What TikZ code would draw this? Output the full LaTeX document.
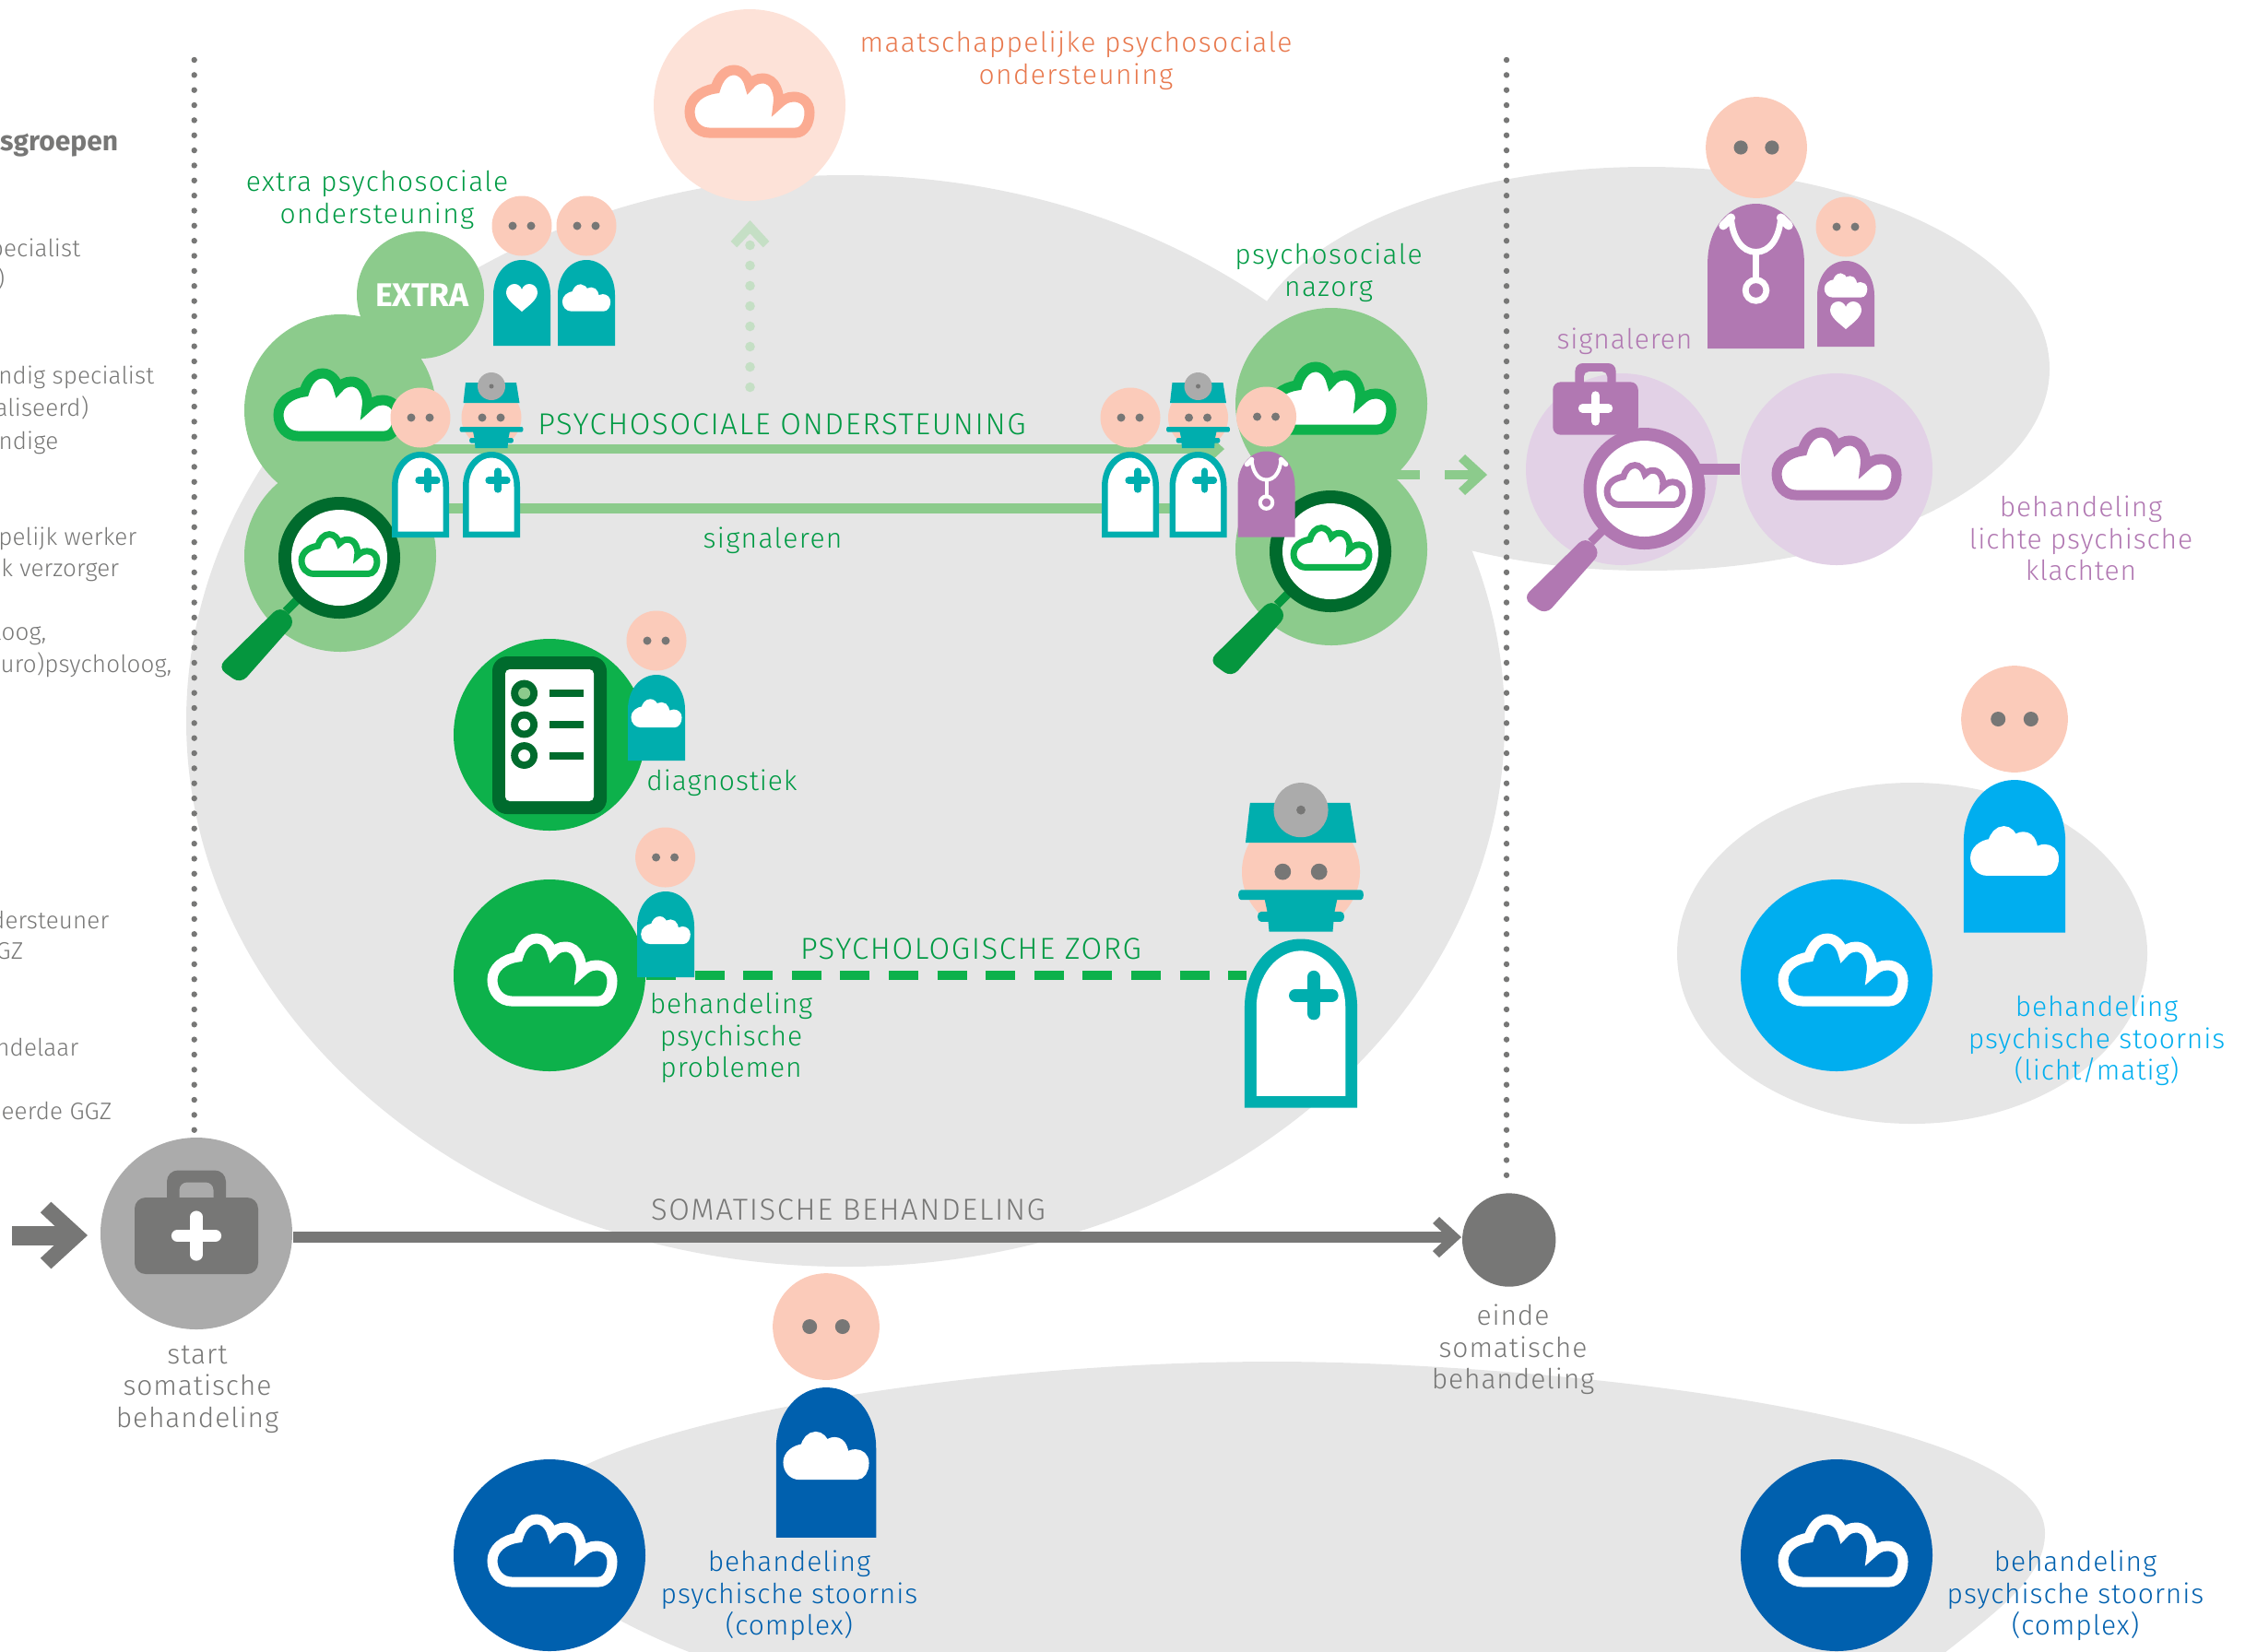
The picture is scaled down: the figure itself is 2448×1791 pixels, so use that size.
\documentclass[tikz,border=0pt]{standalone}
\usepackage{fontspec}
\setmainfont{Fira Sans}
\newfontfamily\dinw[LetterSpace=4.5]{Fira Sans Light}
\newfontfamily\dinx[LetterSpace=3]{Fira Sans Light}
\newfontfamily\dinu[LetterSpace=5]{Fira Sans Light}
\newfontfamily\dinn[LetterSpace=0.5]{Fira Sans Light}
\newfontfamily\dinb{Fira Sans}
\definecolor{blob}{HTML}{E6E6E6}
\definecolor{peachbg}{HTML}{FDE2D8}
\definecolor{peachln}{HTML}{FBAB92}
\definecolor{orangetx}{HTML}{E8784D}
\definecolor{lgreen}{HTML}{8CCB8C}
\definecolor{vlgreen}{HTML}{C5DFC5}
\definecolor{mgreen}{HTML}{0DB14B}
\definecolor{dgreen}{HTML}{006B2D}
\definecolor{hgreen}{HTML}{05963E}
\definecolor{tgreen}{HTML}{009A44}
\definecolor{teal2}{HTML}{00AEAE}
\definecolor{purp}{HTML}{B178B2}
\definecolor{lpurp}{HTML}{E2D1E6}
\definecolor{skin}{HTML}{FBCBBA}
\definecolor{gr}{HTML}{777776}
\definecolor{lgr}{HTML}{ABABAB}
\definecolor{sky}{HTML}{00AEEF}
\definecolor{navy}{HTML}{0060AE}
\tikzset{
  disc/.style={circle,inner sep=0pt,minimum size=#1*0.5pt},
  lab/.style={inner sep=0pt,align=center,font=\dinw\fontsize{7.5}{8.65}\selectfont},
  labn/.style={inner sep=0pt,align=center,font=\dinx\fontsize{7.5}{8.65}\selectfont},
  capslab/.style={inner sep=0pt,align=center,font=\dinu\fontsize{8.2}{9}\selectfont},
  leftlab/.style={inner sep=0pt,anchor=mid east,font=\dinn\fontsize{6.5}{8}\selectfont,text=gr},
  dotline/.style={line width=1.6pt,line cap=round,dash pattern=on 0pt off 4.087pt,draw=gr},
  updots/.style={line width=2.65pt,line cap=round,dash pattern=on 0pt off 5.5pt,draw=vlgreen},
  thickln/.style={line width=2.7pt},
}
% cloud: x,y,scale,stroke,fill
\newcommand{\Cld}[5]{\path[draw=#4,fill=#5,shift={(#1,#2)},scale=#3,line width=#3*2.75pt,miter limit=3]
 (-44,34) -- (50,34) .. controls (59,34) and (65,24) .. (65,12) .. controls (65,1) and (57,-5) .. (48,-5)
 .. controls (41,-5) and (36,-2) .. (31,3) .. controls (33,-6) and (29,-25) .. (14,-25)
 .. controls (8,-25) and (3,-22) .. (0,-18) .. controls (-2,-27) and (-9,-34) .. (-17,-34)
 .. controls (-27,-34) and (-34,-25) .. (-37,-14)
 .. controls (-53,-12) and (-65,-2) .. (-65,11) .. controls (-65,24) and (-56,34) .. (-44,34) -- cycle;}
\newcommand{\Headd}[3]{\begin{scope}[shift={(#1,#2)},scale=#3]
 \fill[skin] (0,0) circle[radius=32.5];
 \fill[gr] (-10,0) circle[radius=4.5] (10,0) circle[radius=4.5];\end{scope}}
\newcommand{\Bdy}[4]{\fill[#4,shift={(#1,#2)},scale=#3] (-31,93) -- (-31,38) .. controls (-31,15) and (-17,0) .. (0,0)
 .. controls (17,0) and (31,15) .. (31,38) -- (31,93) -- cycle;}
\newcommand{\Coat}[4]{\begin{scope}[shift={(#1,#2)},scale=#3]
 \fill[teal2] (-31,93) -- (-31,38) .. controls (-31,15) and (-17,0) .. (0,0) .. controls (17,0) and (31,15) .. (31,38) -- (31,93) -- cycle;
 \fill[white] (-24.5,86.5) -- (-24.5,38) .. controls (-24.5,20) and (-13,6.5) .. (0,6.5) .. controls (13,6.5) and (24.5,20) .. (24.5,38) -- (24.5,86.5) -- cycle;
 \draw[teal2,line width=#3*1.8pt,line cap=round] (#4-10,31) -- (#4+10,31) (#4,21) -- (#4,41);
 \end{scope}}
\newcommand{\Doct}[3]{\Coat{#1}{#2}{#3}{7}\begin{scope}[shift={(#1,#2)},scale=#3]
 \fill[skin] (0,-37) circle[radius=32.5];
 \fill[teal2] (-28,-75) -- (27,-75) -- (30.5,-53) -- (-30.5,-53) -- cycle;
 \fill[lgr] (0,-71) circle[radius=15];
 \fill[gr] (0,-71) circle[radius=2.5];
 \fill[gr] (-10,-37) circle[radius=4.5] (10,-37) circle[radius=4.5];
 \fill[teal2] (-33,-27) -- (33,-27) .. controls (35,-27) and (35,-21.5) .. (33,-21.5) -- (-33,-21.5) .. controls (-35,-21.5) and (-35,-27) .. (-33,-27) -- cycle;
 \fill[teal2] (-20,-22) -- (20,-22) -- (18.5,-15) -- (22,-15) .. controls (24.5,-15) and (24.5,-9.5) .. (22,-9.5) -- (18,-9.5) -- (17.5,-4) -- (-17.5,-4) -- (-18,-9.5) -- (-22,-9.5) .. controls (-24.5,-9.5) and (-24.5,-15) .. (-22,-15) -- (-18.5,-15) -- cycle;
 \end{scope}}
\newcommand{\Steth}[3]{\begin{scope}[shift={(#1,#2)},scale=#3]
 \draw[white,line width=#3*1.0pt] (-16,9) .. controls (-15,22) and (-9,31) .. (0,31) .. controls (9,31) and (15,22) .. (16,9);
 \draw[white,line width=#3*1.0pt] (0,30) -- (0,48);
 \draw[white,line width=#3*1.4pt,line cap=round] (-21,14) -- (-16,9) (21,14) -- (16,9);
 \draw[white,line width=#3*1.0pt] (0,55.6) circle[radius=6.7];
 \end{scope}}
\newcommand{\Magn}[5]{\begin{scope}[shift={(#1,#2)}]
 \draw[#4,line width=2.3pt] (-38,38) -- (-58,58);
 \path[fill=#5,rounded corners=2.5pt] (-64,52) -- (-47,69) -- (-107,137) -- (-132,119) -- cycle;
 \fill[#3] (0,0) circle[radius=66];
 \fill[white] (0,0) circle[radius=52];
 \end{scope}}
\newcommand{\Suit}[5]{\begin{scope}[shift={(#1,#2)},scale=#3]
 \pgfmathsetlengthmacro\rca{#3*3pt}\pgfmathsetlengthmacro\rcb{#3*2pt}
 \path[fill=#4,even odd rule,rounded corners=\rca] (-32,-30) -- (-32,-71) -- (32,-71) -- (32,-30) -- cycle
   [rounded corners=\rcb] (-18.5,-30) -- (-18.5,-58) -- (18.5,-58) -- (18.5,-30) -- cycle;
 \path[fill=#4,rounded corners=\rca] (-67,-41.5) rectangle (67,41.5);
 \draw[white,line width=#3*3.3pt,line cap=round] (-20.5,0) -- (20.5,0) (0,-20.5) -- (0,20.5);
 \end{scope}}
% chevron: tip x, y, angle, scale, colour
\newcommand{\Chev}[5]{\fill[#5,shift={(#1,#2)},rotate=#3,scale=#4] (0,0) -- (-24,-22) -- (-31,-15) -- (-15,0) -- (-31,15) -- (-24,22) -- cycle;}
\newcommand{\Hrt}[4]{\fill[#4,shift={(#1,#2)},scale=#3] (0,15) .. controls (-8,8) and (-17,2) .. (-17,-6) .. controls (-17,-12) and (-12,-15) .. (-8,-15) .. controls (-4,-15) and (-1,-12) .. (0,-9) .. controls (1,-12) and (4,-15) .. (8,-15) .. controls (12,-15) and (17,-12) .. (17,-6) .. controls (17,2) and (8,8) .. (0,15) -- cycle;}
\begin{document}
\begin{tikzpicture}[x=0.25pt,y=-0.25pt]
\useasboundingbox (0,0) rectangle (2448,1791);
\clip (0,0) rectangle (2448,1791);
% background blobs
\fill[blob] (1786,400) ellipse[x radius=437,y radius=219];
\fill[blob] (2074,1034) ellipse[x radius=255,y radius=185];
\fill[blob] (560,1660) .. controls (560,1560) and (1000,1477) .. (1381,1477) .. controls (1650,1477) and (2218,1530) .. (2218,1663)
  .. controls (2218,1710) and (2170,1745) .. (2100,1800) -- (770,1800) .. controls (680,1770) and (560,1700) .. (560,1660) -- cycle;
\fill[blob] (917,782) ellipse[x radius=715,y radius=592];
% dotted section lines
\coordinate (dl1) at (210.7,65); \coordinate (dl2) at (210.7,1226);
\coordinate (dr1) at (1634,65); \coordinate (dr2) at (1634,1284);
\draw[dotline] (dl1) -- (dl2);
\draw[dotline] (dr1) -- (dr2);
% left clipped column
\node[inner sep=0pt,anchor=mid east,font=\dinb\bfseries\fontsize{7.5}{9}\selectfont,text=gr] (lg) at (129,153) {sgroepen};
\node[leftlab] (l1) at (88,268) {pecialist};
\node[leftlab] (l2) at (6,301) {)};
\node[leftlab] (l3) at (168,406) {undig specialist};
\node[leftlab] (l4) at (97,441) {aliseerd)};
\node[leftlab] (l5) at (64,477) {ndige};
\node[leftlab] (l6) at (149,581) {pelijk werker};
\node[leftlab] (l7) at (130,615) {k verzorger};
\node[leftlab] (l8) at (51,684) {loog,};
\node[leftlab] (l9) at (187,719) {euro)psycholoog,};
\node[leftlab] (l10) at (119,997) {dersteuner};
\node[leftlab] (l11) at (26,1030) {GZ};
\node[leftlab] (l12) at (86,1135) {ndelaar};
\node[leftlab] (l13) at (3,1167) {/};
\node[leftlab] (l14) at (122,1204) {seerde GGZ};
% peach
\node[disc=104,fill=peachbg] (pc) at (813,114) {};
\Cld{813}{110}{1}{peachln}{white}
\node[lab,text=orangetx] (tm) at (1167,66) {maatschappelijke psychosociale\\ondersteuning};
% up dotted arrow
\coordinate (ua1) at (813.5,420); \coordinate (ua2) at (813.5,265);
\draw[updots] (ua1) -- (ua2);
\Chev{813.5}{239}{90}{0.95}{vlgreen}
% green left
\node[disc=104,fill=lgreen] (g1) at (369,445) {};
\node[disc=104,fill=lgreen] (g2) at (369,603) {};
\node[disc=69,fill=lgreen] (ex) at (456,320) {};
\node[inner sep=0pt,text=white,font=\dinb\bfseries\fontsize{8.9}{9}\selectfont] (extxt) at (458,320) {EXTRA};
\Cld{367}{439}{1}{mgreen}{white}
\Magn{368}{605}{dgreen}{hgreen}{hgreen}
\Cld{368}{601}{0.63}{mgreen}{white}
% green right
\node[disc=104,fill=lgreen] (g3) at (1444,438) {};
\node[disc=104,fill=lgreen] (g4) at (1444,596) {};
\Cld{1444}{432}{1}{mgreen}{white}
\Magn{1443}{598}{dgreen}{hgreen}{hgreen}
\Cld{1444}{594}{0.63}{mgreen}{white}
% lines
\coordinate (ps1) at (456,487); \coordinate (ps2) at (1318,487);
\coordinate (si1) at (487,551); \coordinate (si2) at (1300,551);
\draw[lgreen,line width=2.5pt] (ps1) -- (ps2);
\Chev{1328}{487}{0}{1}{lgreen}
\draw[lgreen,line width=2.75pt] (si1) -- (si2);
% right stub and arrow
\coordinate (nzm) at (1444,515); \coordinate (nze) at (1540,515);
\coordinate (nzs) at (1567,515); \coordinate (nzt) at (1600,515);
\draw[lgreen,thickln] (nzm) -- (nze);
\draw[lgreen,thickln] (nzs) -- (nzt);
\Chev{1613}{515}{0}{1}{lgreen}
% persons above extra
\Headd{566}{245}{1}\Bdy{566}{282}{1}{teal2}\Hrt{566}{323}{1}{white}
\Headd{636}{245}{1}\Bdy{636}{282}{1}{teal2}\Cld{636}{323}{0.37}{white}{white}
\node[lab,text=tgreen] (te) at (409,217) {extra psychosociale\\ondersteuning};
\node[lab,text=tgreen] (tn) at (1441,296) {psychosociale\\nazorg};
% care teams
\Headd{456}{453}{1}\Coat{456}{490}{1}{8}
\Doct{533}{490}{1}
\Headd{1226}{453}{1}\Coat{1226}{490}{1}{8}
\Doct{1299.5}{490}{1}
\Headd{1373.5}{452}{1}\Bdy{1373.5}{489.5}{1}{purp}\Steth{1373.5}{489.5}{1}
\node[capslab,text=tgreen] (tps) at (848,460) {PSYCHOSOCIALE ONDERSTEUNING};
\node[lab,text=tgreen] (tsi) at (838,586) {signaleren};
% diagnostics
\node[disc=104,fill=mgreen] (dc) at (596,797) {};
\draw[fill=dgreen,draw=none,rounded corners=4pt] (534,712) rectangle (658,883);
\draw[fill=white,draw=none,rounded corners=1.2pt] (548,726) rectangle (644,869);
\foreach \yy/\cc in {752/lgreen,786/white,819.5/white}{
 \fill[dgreen] (568.6,\yy) circle[radius=14.4];
 \fill[\cc] (568.6,\yy) circle[radius=6.5];
 \fill[dgreen] (596,\yy-4) rectangle (632.5,\yy+4);
}
\Headd{712}{695}{1}\Bdy{712}{732}{1}{teal2}\Cld{712}{773.7}{0.39}{white}{white}
\node[labn,text=tgreen] (td) at (783,849) {diagnostiek};
% treatment
\node[disc=104,fill=mgreen] (tc) at (596,1058) {};
\Cld{599}{1052}{1}{white}{none}
\coordinate (da1) at (701,1058); \coordinate (da2) at (1352,1058);
\draw[mgreen,line width=2.68pt,dash pattern=on 8pt off 5.15pt] (da1) -- (da2);
\Headd{721.6}{930}{1}\Bdy{722}{967}{1}{teal2}\Cld{722}{1009}{0.38}{white}{white}
\Doct{1411}{1018.5}{1.97}
\node[labn,text=tgreen] (tb) at (793,1126) {behandeling\\psychische\\problemen};
\node[capslab,text=tgreen] (tz) at (1053,1029) {PSYCHOLOGISCHE ZORG};
% somatic line
\node[disc=104,fill=lgr] (st) at (213,1338) {};
\node[disc=50.7,fill=gr] (en) at (1636.7,1345) {};
\coordinate (gy) at (0,1342);
\draw[gr,line width=2.9pt] (st.east |- gy) -- (1575,1342);
\Chev{1585}{1342}{0}{1}{gr}
\Suit{213}{1340.5}{1}{gr}{lgr}
\coordinate (ga1) at (13,1340); \coordinate (ga2) at (70,1340);
\draw[gr,line width=5.25pt] (ga1) -- (ga2);
\Chev{95}{1340}{0}{1.65}{gr}
\node[capslab,text=gr] (ts) at (920,1312) {SOMATISCHE BEHANDELING};
\node[labn,text=gr] (tst) at (214,1507) {start\\somatische\\behandeling};
\node[labn,text=gr] (ten) at (1641,1464) {einde\\somatische\\behandeling};
% purple
\Headd{1905}{160}{1.69}\Bdy{1904.5}{221}{1.69}{purp}\Steth{1904.5}{221}{1.69}
\Headd{2002}{246}{1}\Bdy{2002}{283}{1}{purp}
\Cld{2002}{309.5}{0.33}{white}{white}
\Hrt{2002}{342}{1}{white}
\node[disc=104,fill=lpurp] (pc1) at (1759,509) {};
\node[disc=104,fill=lpurp] (pc2) at (1992,509) {};
\draw[purp,line width=2.8pt] (pc1.center) -- (pc2.west);
\Suit{1730.5}{443}{0.69}{purp}{lpurp}
\Magn{1783.5}{530}{purp}{purp}{purp}
\Cld{1784}{526}{0.63}{purp}{white}
\Cld{1992}{503}{1}{purp}{white}
\node[labn,text=purp] (tsp) at (1762,370) {signaleren};
\node[labn,text=purp] (tl) at (2257,584) {behandeling\\lichte psychische\\klachten};
% sky
\node[disc=104,fill=sky] (sc) at (1992,1058) {};
\Cld{1999}{1052}{1}{white}{none}
\Headd{2185}{780}{1.78}\Bdy{2185}{846}{1.78}{sky}\Cld{2185}{923}{0.68}{white}{white}
\node[labn,text=sky] (tsk) at (2274,1129) {behandeling\\psychische stoornis\\(licht/matig)};
% navy
\node[disc=104,fill=navy] (nc1) at (596,1687) {};
\node[disc=104,fill=navy] (nc2) at (1992,1687) {};
\Cld{599}{1682}{1}{white}{none}
\Cld{1999}{1682}{1}{white}{none}
\Headd{896}{1439}{1.78}\Bdy{896}{1505}{1.75}{navy}\Cld{896}{1579}{0.66}{white}{white}
\node[labn,text=navy] (tn1) at (856,1731) {behandeling\\psychische stoornis\\(complex)};
\node[labn,text=navy] (tn2) at (2251,1731) {behandeling\\psychische stoornis\\(complex)};
\end{tikzpicture}
\end{document}
